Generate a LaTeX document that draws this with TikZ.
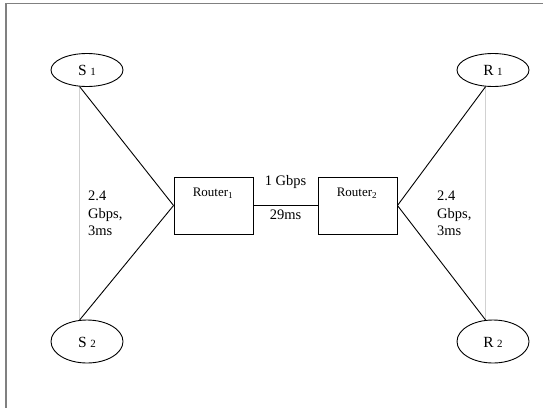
\documentclass[tikz,border=0pt]{standalone}
\usepackage{fontspec}
\setmainfont{Liberation Serif}
\usetikzlibrary{shapes.geometric}
\tikzset{
  host/.style={draw, ellipse, line width=0.9pt, minimum width=72pt, inner sep=0pt},
  small host/.style={host, minimum height=33pt},
  tall host/.style={host, minimum height=43pt},
  routerbox/.style={draw, line width=0.9pt, minimum width=79pt, minimum height=57pt, inner sep=0pt},
  link/.style={draw, line width=0.9pt},
  guide/.style={draw, line width=0.9pt, color=black!18},
  lbl/.style={inner sep=0pt, font=\fontsize{14.5}{17.5}\selectfont},
  rlbl/.style={inner sep=0pt, font=\fontsize{13}{15}\selectfont},
  hlbl/.style={inner sep=0pt, font=\fontsize{15.5}{17}\selectfont},
}
\newcommand{\hostname}[2]{#1\hspace{3.5pt}{\fontsize{11}{11}\selectfont #2}}
\begin{document}
\begin{tikzpicture}[x=1pt, y=-1pt]
  \useasboundingbox (0,0) rectangle (543,407);
  % frame
  \draw[color=black!50, line width=1.5pt] (6,420) -- (6,3.5) -- (560,3.5);

  % hosts
  \node[small host] (S1) at (87,70) {};
  \node[tall host] (S2) at (87,341.5) {};
  \node[small host] (R1) at (493,70) {};
  \node[tall host] (R2) at (493,341.5) {};
  \node[hlbl, anchor=base] (S1t) at (87,75.5) {\hostname{S}{1}};
  \node[hlbl, anchor=base] (S2t) at (87,347.5) {\hostname{S}{2}};
  \node[hlbl, anchor=base] (R1t) at (493,75.5) {\hostname{R}{1}};
  \node[hlbl, anchor=base] (R2t) at (493,347.5) {\hostname{R}{2}};

  % routers
  \node[routerbox] (A) at (213.5,205.5) {};
  \node[routerbox] (B) at (357.5,205.5) {};
  \node[rlbl, anchor=base] (At) at (213,196.5) {Router\textsubscript{1}};
  \node[rlbl, anchor=base] (Bt) at (357,196.5) {Router\textsubscript{2}};

  % attachment points on the host ellipses
  \coordinate (s1p) at (S1.246);
  \coordinate (s2p) at (S2.109);
  \coordinate (r1p) at (R1.246);
  \coordinate (r2p) at (R2.109);

  % light vertical guides
  \draw[guide] (s1p) -- (s1p |- s2p);
  \draw[guide] (r1p) -- (r1p |- r2p);

  % access links
  \draw[link] (s1p) -- (A.west);
  \draw[link] (s2p) -- (A.west);
  \draw[link] (r1p) -- (B.east);
  \draw[link] (r2p) -- (B.east);

  % bottleneck link
  \draw[link] (A.east) -- (B.west);

  % link labels
  \node[lbl, anchor=base] (bw) at (285.5,185.5) {1 Gbps};
  \node[lbl, anchor=base] (dl) at (285.5,219.5) {29ms};
  \node[lbl, anchor=north west, align=left] (accL) at (88,191) {2.4\\Gbps,\\3ms};
  \node[lbl, anchor=north west, align=left] (accR) at (437,191) {2.4\\Gbps,\\3ms};
\end{tikzpicture}
\end{document}
